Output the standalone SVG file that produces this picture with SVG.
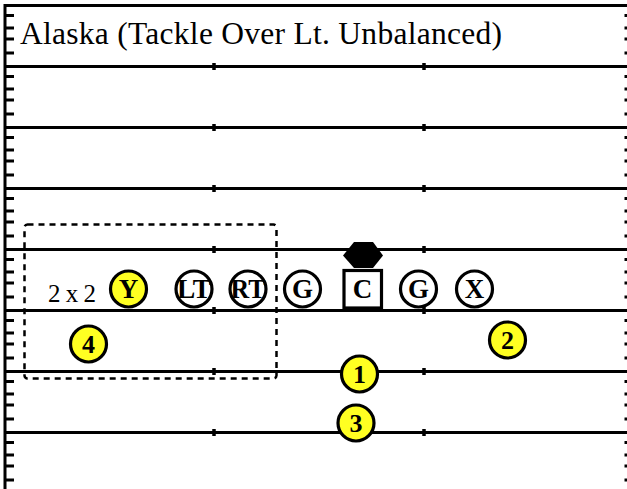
<svg xmlns="http://www.w3.org/2000/svg" width="627" height="489" viewBox="0 0 627 489">
<style>
.fld{stroke:#000;stroke-width:3;fill:none}
.tick{stroke:#000;stroke-width:3;fill:none}
.hash{stroke:#000;stroke-width:3.5;fill:none}
.p{fill:#fff;stroke:#000;stroke-width:3.2}
.y{fill:#ffff22;stroke:#000;stroke-width:3.2}
.lbl{font-family:"Liberation Serif","Times New Roman",serif;font-weight:bold;font-size:27px;text-anchor:middle;fill:#000}
.num{font-family:"Liberation Serif","Times New Roman",serif;font-weight:bold;font-size:26px;text-anchor:middle;fill:#000}
.txt{font-family:"Liberation Serif","Times New Roman",serif;fill:#000}
</style>
<rect width="627" height="489" fill="#fff"/>
<g id="field">
<path class="fld" d="M5 5.5H627M5 4V489"/>
<path class="fld" d="M5 66.5H627M5 127.5H627M5 188.5H627M5 249.5H627M5 310.5H627M5 371.5H627M5 432.5H627"/>
<path class="hash" d="M214 63v7M424 63v7M214 124v7M424 124v7M214 185v7M424 185v7M214 246v7M424 246v7M214 307v7M424 307v7M214 368v7M424 368v7M214 429v7M424 429v7"/>
<path class="tick" d="M6 15.5h8M6 28h8M6 39h8M6 53h8M6 76.5h8M6 89h8M6 100h8M6 114h8M6 137.5h8M6 150h8M6 161h8M6 175h8M6 198.5h8M6 211h8M6 222h8M6 236h8M6 259.5h8M6 272h8M6 283h8M6 297h8M6 320.5h8M6 333h8M6 344h8M6 358h8M6 381.5h8M6 394h8M6 405h8M6 419h8M6 442.5h8M6 455h8M6 466h8M6 480h8"/>
<path class="tick" d="M624.5 15.5h3M624.5 28h3M624.5 39h3M624.5 53h3M624.5 76.5h3M624.5 89h3M624.5 100h3M624.5 114h3M624.5 137.5h3M624.5 150h3M624.5 161h3M624.5 175h3M624.5 198.5h3M624.5 211h3M624.5 222h3M624.5 236h3M624.5 259.5h3M624.5 272h3M624.5 283h3M624.5 297h3M624.5 320.5h3M624.5 333h3M624.5 344h3M624.5 358h3M624.5 381.5h3M624.5 394h3M624.5 405h3M624.5 419h3M624.5 442.5h3M624.5 455h3M624.5 466h3M624.5 480h3"/>
</g>
<g id="title"><text class="txt" x="20" y="44" font-size="31.5" textLength="482" lengthAdjust="spacing">Alaska (Tackle Over Lt. Unbalanced)</text></g>
<g id="formation-box"><rect x="24.5" y="224.5" width="252" height="154" rx="3" fill="none" stroke="#000" stroke-width="2.5" stroke-dasharray="6 5"/>
<text class="txt" x="48" y="302" font-size="25" textLength="48" lengthAdjust="spacing">2 x 2</text></g>
<g id="ball"><polygon points="354,242 373,242 383,255.5 373,268 354,268 343,255.5" fill="#000"/></g>
<g id="Y"><circle class="y" cx="128.5" cy="289" r="18"/><text class="lbl" x="128.5" y="298">Y</text></g>
<g id="LT"><circle class="p" cx="194" cy="289" r="18"/><text class="lbl" x="194" y="298" textLength="34" lengthAdjust="spacingAndGlyphs">LT</text></g>
<g id="RT"><circle class="p" cx="248" cy="289" r="18"/><text class="lbl" x="248" y="298" textLength="35" lengthAdjust="spacingAndGlyphs">RT</text></g>
<g id="LG"><circle class="p" cx="302.5" cy="289" r="18"/><text class="lbl" x="302.5" y="298">G</text></g>
<g id="C"><rect class="p" x="344" y="270.5" width="37.5" height="37.5"/><text class="lbl" x="362.5" y="298">C</text></g>
<g id="RG"><circle class="p" cx="418.5" cy="289" r="18"/><text class="lbl" x="418.5" y="298">G</text></g>
<g id="X"><circle class="p" cx="474.5" cy="289" r="18"/><text class="lbl" x="474.5" y="298">X</text></g>
<g id="n4"><circle class="y" cx="88.5" cy="344" r="18"/><text class="num" x="88.5" y="353">4</text></g>
<g id="n2"><circle class="y" cx="507.5" cy="340" r="18"/><text class="num" x="507.5" y="349">2</text></g>
<g id="n1"><circle class="y" cx="359.5" cy="374" r="18"/><text class="num" x="359.5" y="383">1</text></g>
<g id="n3"><circle class="y" cx="356" cy="423" r="18"/><text class="num" x="356" y="432">3</text></g>
<g id="connectors"></g>
</svg>
